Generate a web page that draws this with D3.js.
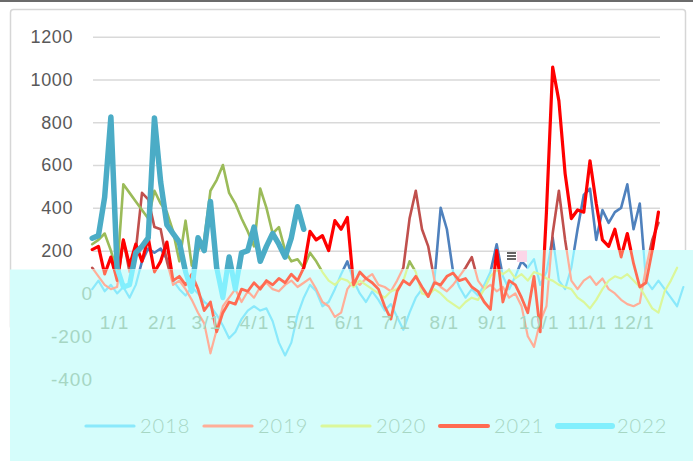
<!doctype html>
<html>

<head>
  <meta charset="utf-8">
  <title>Seasonal spread 2018-2022</title>
  <style>
    body { margin: 0; background: #fff; }
    svg { display: block; }
  </style>
</head>

<body>
  <svg></svg>
  <script type="text/javascript" src="https://cdnjs.cloudflare.com/ajax/libs/d3/7.8.5/d3.min.js"></script>
  <script type="text/javascript">
  // categories / ticks
  var monthLabels = ["1/1", "2/1", "3/1", "4/1", "5/1", "6/1", "7/1", "8/1", "9/1", "10/1", "11/1", "12/1"];
  var monthDays = [0, 31, 59, 90, 120, 151, 181, 212, 243, 273, 304, 334];
  var upperTicks = [1200, 1000, 800, 600, 400, 200];
  var lowerTicks = [0, -200, -400];
  var years = ["2018", "2019", "2020", "2021", "2022"];

  // every series is sampled every 4 days starting 14 days before 1/1
  var startDay = -14, stepDays = 4;

  var s2018 = [20, 60, 10, 40, 0, 30, -20, 40, 150, 210, 190, 210, 160, 60, 20, -10, 30, 0, -40, -60,
    -100, -150, -210, -180, -120, -80, -60, -80, -70, -130, -230, -290, -230, -100, -20, 40, 10, -60, -40, 20,
    90, 150, 60, 0, -40, 10, -30, -80, -50, -110, -170, -90, -20, 20, -10, 60, 400, 300, 100, 30,
    -20, 20, -10, 40, 100, 230, 80, 20, 80, 150, 120, 160, 40, 100, 260, 60, 20, 120, 300, 460,
    490, 250, 390, 330, 380, 400, 510, 300, 420, 60, 20, 60, 20, -20, -60, 30];
  var s2019 = [120, 80, 40, 20, 30, 250, 100, 200, 470, 440, 310, 300, 150, 40, 60, 20, -30, -90, -140, -280,
    -170, -60, -20, 20, -40, 10, -20, 30, 50, 20, 10, 40, 60, 30, 50, 70, 20, -40, -60, -110,
    -90, 20, 60, 40, 70, 90, 40, 30, 10, 60, 120, 350, 480, 300, 220, 60, 30, 10, 40, 80,
    120, 170, 60, 20, 40, 10, 30, -20, 0, -60, -200, -250, -130, -60, 280, 480, 250, 60, 20, 60,
    80, 40, 70, 20, 0, -30, -50, -60, -45, 120, 250, 330];
  var s2020 = [230, 250, 280, 200, 100, 510, 470, 430, 390, 350, 480, 420, 380, 290, 150, 340, 130, 200, 250, 480,
    530, 600, 470, 420, 350, 290, 220, 490, 400, 280, 310, 200, 150, 160, 120, 190, 150, 100, 60, 40,
    70, 60, 30, 60, 40, 20, 0, -20, 10, 20, 60, 150, 100, 0, -10, 20, 0, -30, -50, -70,
    -40, -20, -30, 20, 80, 110, 90, 110, 70, 90, 60, 100, 90, 70, 60, 40, 30, 20, -20, -40,
    -70, -30, 20, 60, 80, 70, 90, 60, 30, -20, -70, -90, 10, 60, 120];
  var s2021 = [205, 220, 90, 170, 60, 250, 130, 230, 150, 260, 100, 150, 240, 60, 80, 40, 90, 20, -80, -40,
    -180, -90, -40, -50, 20, 10, 50, 20, 60, 40, 70, 50, 90, 60, 120, 290, 250, 270, 200, 340,
    300, 355, 40, 100, 70, 50, 20, -60, -120, 10, 60, 40, 80, 30, -15, 50, 40, 80, 95, 60,
    70, 30, 10, -40, -75, 200, -40, 60, 40, -20, -90, 80, -180, 380, 1058, 900, 560, 350, 390, 380,
    620, 420, 250, 220, 300, 170, 280, 140, 30, 50, 200, 380];
  var s2022 = [258, 270, 450, 825, 120, 30, 40, 190, 220, 260, 820, 520, 320, 280, 240, 100, 10, 260, 200, 430,
    120, -20, 170, 20, 190, 200, 310, 150, 220, 280, 230, 170, 260, 405, 300];

  var series = [s2018, s2019, s2020, s2021, s2022];
  var upperColors = ["#4f81bd", "#c0504d", "#9bbb59", "#ff0000", "#4bacc6"];
  var lowerColors = ["#8ae9fb", "#ffae98", "#dbf79a", "#ff6b52", "#82effd"];
  var lineWidths = [2.6, 2.6, 2.6, 3.2, 5.5];

  var width = 693, height = 461;

  var svg = d3.select("svg")
    .attr("width", width)
    .attr("height", height)
    .style("font-family", "Lato, 'Open Sans', sans-serif");

  var x = d3.scaleLinear().domain([-13.5, 351]).range([93, 660]);
  var y = d3.scaleLinear().domain([-400, 1200]).range([379, 36.7]);

  var plain = function(d) { return String(d); };

  var line = d3.line()
    .x(function(d, i) { return x(startDay + i * stepDays); })
    .y(function(d) { return y(d); });

  // the picture is split: a white upper part and a washed cyan lower part
  var defs = svg.append("defs");
  defs.append("clipPath").attr("id", "upper")
    .append("path")
    .attr("d", "M0,0H693V250H527V269.5H0Z");
  defs.append("clipPath").attr("id", "lower")
    .append("path")
    .attr("d", "M10,269.5H527V250H693V461H10Z");

  svg.append("rect")
    .attr("x", 0).attr("y", 0)
    .attr("width", width).attr("height", 2)
    .attr("fill", "#6b6b6b");

  svg.append("rect")
    .attr("x", 10.5).attr("y", 9.5)
    .attr("width", 675).attr("height", 320)
    .attr("rx", 3)
    .attr("fill", "#fff")
    .attr("stroke", "#d6d6d6")
    .attr("stroke-width", 1.5);

  // ---------- upper part ----------
  var upper = svg.append("g").attr("clip-path", "url(#upper)");

  upper.append("g")
    .attr("transform", "translate(93,0)")
    .call(d3.axisLeft(y).tickValues(upperTicks).tickSize(-(660 - 93)).tickFormat(""))
    .call(function(g) {
      g.select(".domain").remove();
      g.selectAll("line").attr("stroke", "#d9d9d9").attr("stroke-width", 1.5);
    });

  upper.append("g")
    .attr("transform", "translate(93,0)")
    .call(d3.axisLeft(y).tickValues(upperTicks).tickSize(0).tickPadding(20).tickFormat(plain))
    .call(function(g) {
      g.select(".domain").remove();
      g.selectAll("text")
        .attr("fill", "#595959")
        .style("font-size", "18px")
        .attr("letter-spacing", "0.6");
    });

  upper.append("g")
    .selectAll("path")
    .data(series)
    .enter().append("path")
    .attr("d", line)
    .attr("fill", "none")
    .attr("stroke", function(d, i) { return upperColors[i]; })
    .attr("stroke-width", function(d, i) { return lineWidths[i]; })
    .attr("stroke-linejoin", "round")
    .attr("stroke-linecap", "round");

  // ---------- lower part ----------
  var lower = svg.append("g").attr("clip-path", "url(#lower)");

  lower.append("rect")
    .attr("x", 0).attr("y", 0)
    .attr("width", width).attr("height", height)
    .attr("fill", "#d5fdfb");

  lower.append("g")
    .selectAll("path")
    .data(series)
    .enter().append("path")
    .attr("d", line)
    .attr("fill", "none")
    .attr("stroke", function(d, i) { return lowerColors[i]; })
    .attr("stroke-width", function(d, i) { return lineWidths[i] - 0.4; })
    .attr("stroke-linejoin", "round")
    .attr("stroke-linecap", "round");

  var faded = "#a6d6c3";

  lower.append("g")
    .attr("transform", "translate(113,0)")
    .call(d3.axisLeft(y).tickValues(lowerTicks).tickSize(0).tickPadding(20).tickFormat(plain))
    .call(function(g) {
      g.select(".domain").remove();
      g.selectAll("text")
        .attr("fill", faded)
        .style("font-size", "19px")
        .style("font-weight", 300)
        .attr("letter-spacing", "1");
    });

  lower.append("g")
    .attr("transform", "translate(0," + y(0) + ")")
    .call(d3.axisBottom(x).tickValues(monthDays).tickSize(0)
      .tickFormat(function(d, i) { return monthLabels[i]; }))
    .call(function(g) {
      g.select(".domain").remove();
      g.selectAll("text")
        .attr("y", 36).attr("dy", 0)
        .attr("fill", faded)
        .style("font-size", "19px")
        .style("font-weight", 300)
        .attr("letter-spacing", "1");
    });

  // legend
  var legend = lower.append("g")
    .selectAll("g")
    .data(years)
    .enter().append("g")
    .attr("transform", function(d, i) { return "translate(" + (86 + i * 118) + ",426)"; });

  legend.append("line")
    .attr("x1", 0)
    .attr("x2", function(d, i) { return i === 4 ? 54 : 48; })
    .attr("stroke", function(d, i) { return lowerColors[i]; })
    .attr("stroke-width", function(d, i) { return i === 4 ? 6 : (i === 3 ? 4 : 3.2); })
    .attr("stroke-linecap", "round");

  legend.append("text")
    .attr("x", function(d, i) { return i === 4 ? 59 : 54; })
    .attr("dy", "0.36em")
    .attr("fill", faded)
    .style("font-size", "20px")
    .style("font-weight", 300)
    .attr("letter-spacing", "1")
    .text(function(d) { return d; });

  // small glitch marks at the seam
  var seam = svg.append("g");
  [253, 256, 259].forEach(function(yy) {
    seam.append("line")
      .attr("x1", 507).attr("x2", 516)
      .attr("y1", yy).attr("y2", yy)
      .attr("stroke", "#222").attr("stroke-width", 1.4);
  });
  seam.append("rect")
    .attr("x", 517).attr("y", 251)
    .attr("width", 10).attr("height", 11)
    .attr("fill", "#fbd6e8");
  </script>
</body>

</html>
